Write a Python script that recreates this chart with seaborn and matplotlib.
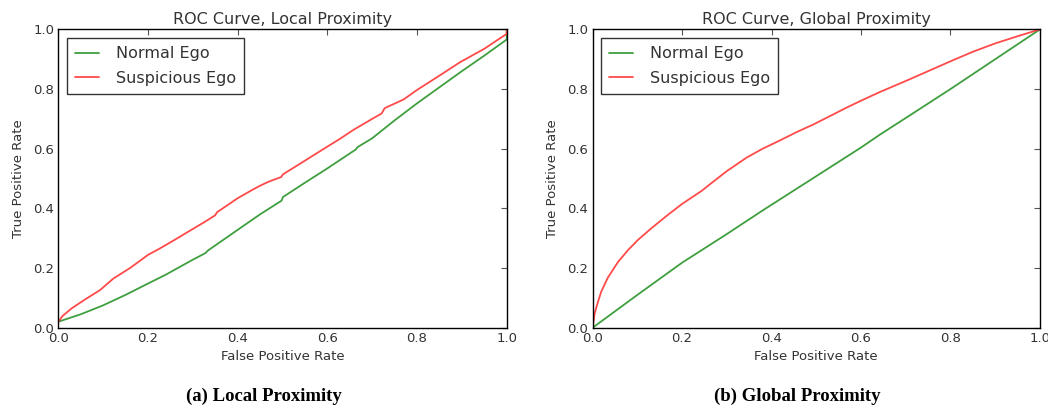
import numpy as np
import pandas as pd
import matplotlib
matplotlib.use("Agg")
import matplotlib.pyplot as plt
import seaborn as sns

# ---- data ----
series_names = ["Normal Ego", "Suspicious Ego"]

local_normal_fpr = [0, 0.05, 0.1, 0.15, 0.2, 0.24, 0.3, 0.328, 0.334, 0.4, 0.45, 0.498, 0.501, 0.55,
                    0.6, 0.628, 0.664, 0.667, 0.7, 0.75, 0.8, 0.85, 0.9, 0.95, 1.0, 1.0]
local_normal_tpr = [0.02, 0.045, 0.075, 0.11, 0.148, 0.178, 0.228, 0.25, 0.259, 0.328, 0.38, 0.426, 0.438, 0.486,
                    0.534, 0.562, 0.598, 0.605, 0.635, 0.695, 0.752, 0.806, 0.86, 0.912, 0.966, 1.0]

local_susp_fpr = [0, 0.01, 0.03, 0.06, 0.093, 0.123, 0.16, 0.2, 0.227, 0.26, 0.29, 0.327, 0.35, 0.354, 0.4,
                  0.435, 0.45, 0.47, 0.497, 0.501, 0.55, 0.6, 0.628, 0.658, 0.7, 0.721, 0.728, 0.77, 0.8, 0.85,
                  0.896, 0.95, 1.0, 1.0]
local_susp_tpr = [0.02, 0.04, 0.065, 0.095, 0.126, 0.165, 0.2, 0.244, 0.266, 0.295, 0.322, 0.355, 0.377, 0.387, 0.434,
                  0.464, 0.476, 0.49, 0.505, 0.514, 0.56, 0.607, 0.633, 0.663, 0.7, 0.718, 0.736, 0.765, 0.797, 0.845,
                  0.89, 0.935, 0.985, 1.0]

global_normal_fpr = [0, 0.1, 0.2, 0.3, 0.381, 0.5, 0.6, 0.642, 0.7, 0.8, 0.9, 1.0]
global_normal_tpr = [0, 0.11, 0.218, 0.314, 0.394, 0.508, 0.604, 0.647, 0.703, 0.8, 0.9, 1.0]

global_susp_fpr = [0, 0.002, 0.0045, 0.012, 0.019, 0.034, 0.057, 0.079, 0.101, 0.131, 0.168, 0.2, 0.243, 0.27,
                   0.3, 0.344, 0.38, 0.419, 0.455, 0.493, 0.53, 0.568, 0.6, 0.642, 0.7, 0.75, 0.8, 0.85, 0.9,
                   0.95, 1.0]
global_susp_tpr = [0, 0.02, 0.048, 0.087, 0.12, 0.168, 0.221, 0.26, 0.294, 0.333, 0.378, 0.415, 0.458, 0.49,
                   0.525, 0.57, 0.6, 0.628, 0.655, 0.681, 0.709, 0.738, 0.761, 0.79, 0.827, 0.86, 0.893, 0.925,
                   0.953, 0.977, 1.0]

titles = ["ROC Curve, Local Proximity", "ROC Curve, Global Proximity"]
captions = ["(a) Local Proximity", "(b) Global Proximity"]
ticks = [0.0, 0.2, 0.4, 0.6, 0.8, 1.0]


def make_df(nx, ny, sx, sy):
    d1 = pd.DataFrame({"fpr": nx, "tpr": ny, "series": series_names[0]})
    d2 = pd.DataFrame({"fpr": sx, "tpr": sy, "series": series_names[1]})
    return pd.concat([d1, d2], ignore_index=True)


dfs = [make_df(local_normal_fpr, local_normal_tpr, local_susp_fpr, local_susp_tpr),
       make_df(global_normal_fpr, global_normal_tpr, global_susp_fpr, global_susp_tpr)]

sns.set_style("white")
plt.rcParams["font.family"] = ["DejaVu Sans"]
text_color = "#333333"

palette = {"Normal Ego": "#3f9f3f", "Suspicious Ego": "#ff4a4a"}

fig = plt.figure(figsize=(10.48, 4.07), dpi=100)
axes_pos = [[0.0556, 0.1948, 0.4279, 0.733], [0.5655, 0.1948, 0.4268, 0.733]]

for i in range(2):
    ax = fig.add_axes(axes_pos[i])
    sns.lineplot(data=dfs[i], x="fpr", y="tpr", hue="series", palette=palette,
                 estimator=None, sort=False, ax=ax, linewidth=1.3)
    ax.set_xlim(0, 1)
    ax.set_ylim(0, 1)
    ax.set_xticks(ticks)
    ax.set_yticks(ticks)
    ax.set_xticklabels([f"{t:.1f}" for t in ticks])
    ax.set_yticklabels([f"{t:.1f}" for t in ticks])
    ax.tick_params(direction="in", top=True, right=True, length=4, width=0.8,
                   labelsize=9.5, colors=text_color, pad=3)
    ax.tick_params(axis="both", color="#555555")
    for sp in ax.spines.values():
        sp.set_visible(True)
        sp.set_color("black")
        sp.set_linewidth(1.0)
    ax.set_title(titles[i], fontsize=11.5, color=text_color, pad=4)
    ax.set_xlabel("False Positive Rate", fontsize=9.5, color=text_color, labelpad=4)
    ax.set_ylabel("True Positive Rate", fontsize=9.5, color=text_color, labelpad=6)
    leg = ax.legend(loc="upper left", fontsize=11.5, frameon=True, fancybox=False,
                    borderaxespad=0.55, handlelength=1.5, handletextpad=1.05,
                    borderpad=0.5, labelspacing=0.6)
    leg.get_frame().set_edgecolor("black")
    leg.get_frame().set_linewidth(1.0)
    for t in leg.get_texts():
        t.set_color(text_color)
    cx = axes_pos[i][0] + axes_pos[i][2] / 2 - 0.018
    fig.text(cx, 0.027, captions[i], ha="center", va="center", fontsize=13.5,
             fontweight="bold", family=["Liberation Serif", "DejaVu Serif"], color="black")

fig.savefig("out.png", dpi=100)
